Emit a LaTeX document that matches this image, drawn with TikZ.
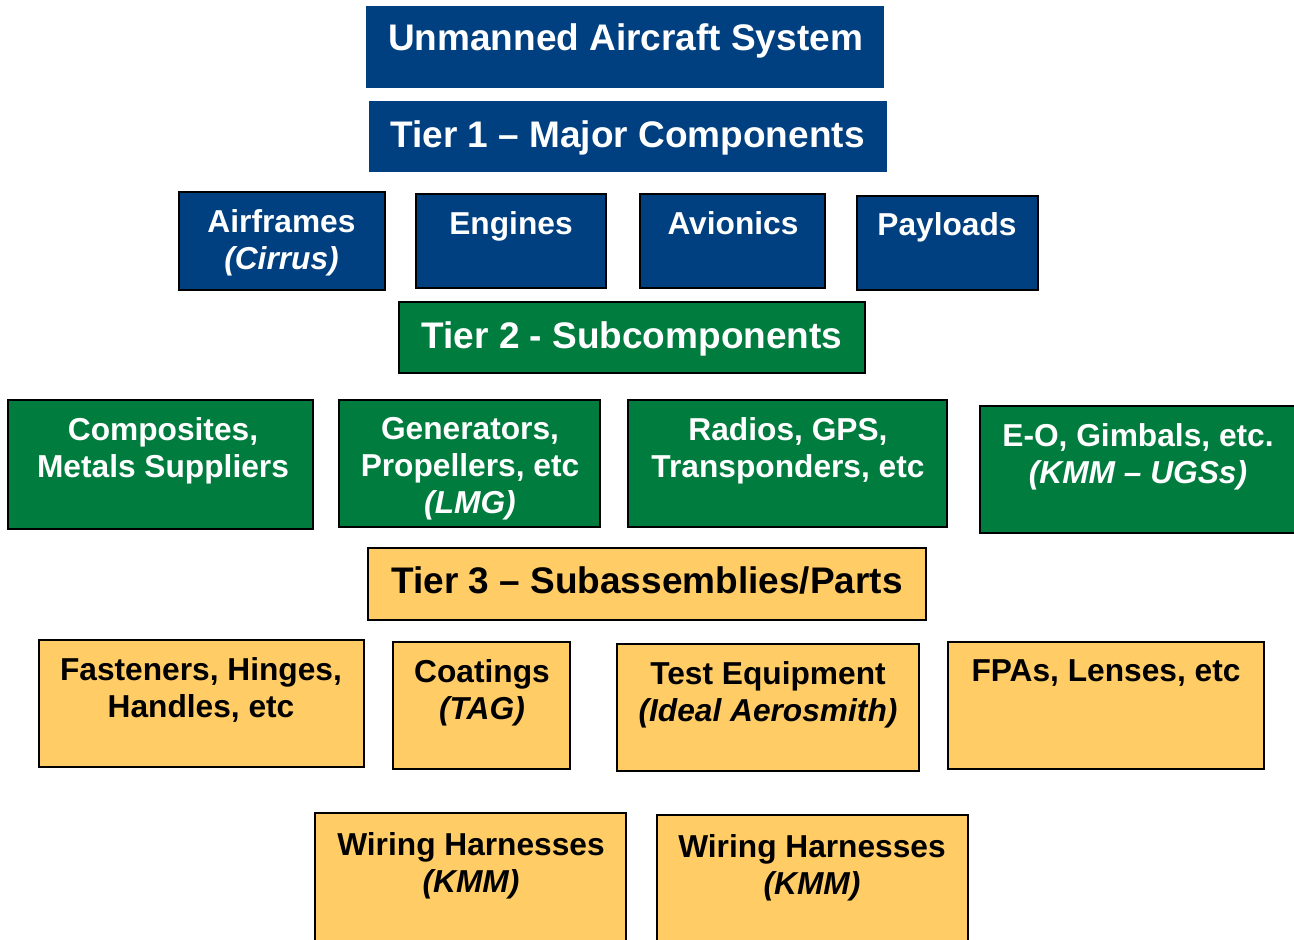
\documentclass[tikz,border=0pt]{standalone}
\usepackage{fontspec}
\setmainfont{Liberation Sans}
\definecolor{tierblue}{RGB}{0,64,128}
\definecolor{tiergreen}{RGB}{0,125,62}
\definecolor{tieryellow}{RGB}{255,204,102}
\tikzset{
  plate/.style={anchor=north west, inner sep=0pt, outer sep=0pt, rectangle},
  framed/.style={plate, draw=black, line width=1.5pt},
  bluebox/.style={framed, fill=tierblue},
  greenbox/.style={framed, fill=tiergreen},
  yellowbox/.style={framed, fill=tieryellow},
  headtext/.style={anchor=north, inner sep=0pt, align=center,
    font=\fontsize{37}{43}\selectfont\bfseries},
  itemtext/.style={anchor=north, inner sep=0pt, align=center,
    font=\fontsize{31.7}{37}\selectfont\bfseries},
}
\newcommand{\boxat}[6]{% style, name, x0, y0, x1, y1
  \node[#1, minimum width=#5pt-#3pt, minimum height=#6pt-#4pt] (#2) at (#3,#4) {};}
\begin{document}
\begin{tikzpicture}[x=1pt, y=-1pt]
\useasboundingbox (0,0) rectangle (1294,940);

% ---- top level
\boxat{plate, fill=tierblue}{uas}{366}{6}{884}{88}
\node[headtext, text=white] (uasT) at (625.5,23.5) {Unmanned Aircraft System};

% ---- tier 1
\boxat{plate, fill=tierblue}{t1}{369}{101}{887}{172}
\node[headtext, text=white] (t1T) at (627.5,120.5) {Tier 1 -- Major Components};

\boxat{bluebox}{air}{179}{192}{385}{290}
\node[itemtext, text=white] (airT) at (281.5,209.5) {Airframes\\\itshape(Cirrus)};
\boxat{bluebox}{eng}{416}{194}{606}{288}
\node[itemtext, text=white] (engT) at (511,211.5) {Engines};
\boxat{bluebox}{avi}{640}{194}{825}{288}
\node[itemtext, text=white] (aviT) at (733,211.5) {Avionics};
\boxat{bluebox}{pay}{857}{196}{1038}{290}
\node[itemtext, text=white] (payT) at (947,212.5) {Payloads};

% ---- tier 2
\boxat{greenbox}{t2}{399}{302}{865}{373}
\node[headtext, text=white] (t2T) at (632,321.5) {Tier 2 - Subcomponents};

\boxat{greenbox}{comp}{8}{400}{313}{529}
\node[itemtext, text=white] (compT) at (163,417.5) {Composites,\\Metals Suppliers};
\boxat{greenbox}{gen}{339}{400}{600}{527}
\node[itemtext, text=white] (genT) at (470,417.5) {Generators,\\Propellers, etc\\\itshape(LMG)};
\boxat{greenbox}{rad}{628}{400}{947}{527}
\node[itemtext, text=white] (radT) at (788,417.5) {Radios, GPS,\\Transponders, etc};
\boxat{greenbox}{eo}{980}{406}{1300}{533}
\node[itemtext, text=white] (eoT) at (1138,423.5) {E-O, Gimbals, etc.\\\itshape(KMM -- UGSs)};

% ---- tier 3
\boxat{yellowbox}{t3}{368}{548}{926}{620}
\node[headtext, text=black] (t3T) at (647,566.5) {Tier 3 -- Subassemblies/Parts};

\boxat{yellowbox}{fast}{39}{640}{364}{767}
\node[itemtext, text=black] (fastT) at (201,657.5) {Fasteners, Hinges,\\Handles, etc};
\boxat{yellowbox}{coat}{393}{642}{570}{769}
\node[itemtext, text=black] (coatT) at (482,659.5) {Coatings\\\itshape(TAG)};
\boxat{yellowbox}{test}{617}{644}{919}{771}
\node[itemtext, text=black] (testT) at (768,661.5) {Test Equipment\\\itshape(Ideal Aerosmith)};
\boxat{yellowbox}{fpa}{948}{642}{1264}{769}
\node[itemtext, text=black] (fpaT) at (1106,659.5) {FPAs, Lenses, etc};

\boxat{yellowbox}{wir1}{315}{813}{626}{960}
\node[itemtext, text=black] (wir1T) at (471,832) {Wiring Harnesses\\\itshape(KMM)};
\boxat{yellowbox}{wir2}{657}{815}{968}{960}
\node[itemtext, text=black] (wir2T) at (812,834) {Wiring Harnesses\\\itshape(KMM)};
\end{tikzpicture}
\end{document}
